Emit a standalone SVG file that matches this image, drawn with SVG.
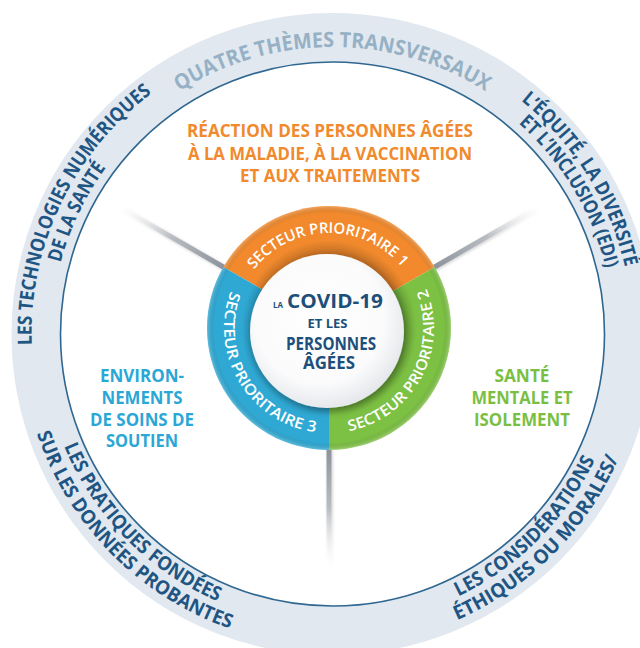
<svg xmlns="http://www.w3.org/2000/svg" xmlns:xlink="http://www.w3.org/1999/xlink" width="640" height="648" viewBox="0 0 640 648">
  <style>
    .theme { font-family: "Open Sans", "Liberation Sans", sans-serif; font-weight: 700; font-size: 19.5px; fill: #1f5583; }
    .title { font-family: "Open Sans", "Liberation Sans", sans-serif; font-weight: 700; font-size: 21px; fill: #96b1c5; }
    .sector { font-family: "Open Sans", "Liberation Sans", sans-serif; font-weight: 600; font-size: 15px; fill: #ffffff; }
    .area { font-family: "Open Sans", "Liberation Sans", sans-serif; font-weight: 700; font-size: 17px; text-anchor: middle; }
    .orange { fill: #f08a2c; }
    .blue { fill: #2aa7d6; }
    .green { fill: #7abf43; }
    .core { font-family: "Open Sans", "Liberation Sans", sans-serif; font-weight: 700; fill: #1d4f7b; }
  </style>
  <defs>
    <!-- text baselines on the outer band, centre (332.5,334) -->
    <path id="p-title" d="M49.86,284.16 A287,287 0 0 1 615.14,284.16"/>
    <path id="p-tech1" d="M84.44,504.49 A301,301 0 0 1 308.88,33.93"/>
    <path id="p-tech2" d="M100.92,493.16 A281,281 0 0 1 310.45,53.87"/>
    <path id="p-edi1" d="M322.03,34.18 A300,300 0 0 1 597.39,474.84"/>
    <path id="p-edi2" d="M327.60,53.04 A281,281 0 0 1 578.27,470.23"/>
    <path id="p-prat1" d="M51.81,257.21 A291,291 0 0 0 406.34,615.48"/>
    <path id="p-prat2" d="M31.56,251.67 A312,312 0 0 0 411.67,635.79"/>
    <path id="p-eth1" d="M257.18,615.09 A291,291 0 0 0 613.59,258.68"/>
    <path id="p-eth2" d="M251.75,635.37 A312,312 0 0 0 633.87,253.25"/>
    <!-- text baselines on the sector ring, centre (329,328) -->
    <path id="p-s1" d="M235.17,313.14 A95,95 0 0 1 422.25,309.87"/>
    <path id="p-s2" d="M295.68,427.57 A105,105 0 0 0 394.36,245.83"/>
    <path id="p-s3" d="M260.11,248.76 A105,105 0 0 0 366.63,426.03"/>

    <radialGradient id="discFill" cx="0.45" cy="0.42" r="0.6">
      <stop offset="0" stop-color="#ffffff"/>
      <stop offset="0.7" stop-color="#fbfbfc"/>
      <stop offset="1" stop-color="#e3e6ea"/>
    </radialGradient>
    <radialGradient id="ringShade" cx="329" cy="328" r="122" gradientUnits="userSpaceOnUse">
      <stop offset="0.62" stop-color="#000" stop-opacity="0.18"/>
      <stop offset="0.72" stop-color="#000" stop-opacity="0"/>
      <stop offset="0.94" stop-color="#000" stop-opacity="0"/>
      <stop offset="1" stop-color="#fff" stop-opacity="0.25"/>
    </radialGradient>
    <linearGradient id="lineUL" gradientUnits="userSpaceOnUse" x1="223.35" y1="267" x2="119.42" y2="207">
      <stop offset="0" stop-color="#8e939b"/>
      <stop offset="0.5" stop-color="#b9bdc3"/>
      <stop offset="1" stop-color="#ffffff" stop-opacity="0"/>
    </linearGradient>
    <linearGradient id="lineUR" gradientUnits="userSpaceOnUse" x1="434.65" y1="267" x2="538.58" y2="207">
      <stop offset="0" stop-color="#8e939b"/>
      <stop offset="0.5" stop-color="#b9bdc3"/>
      <stop offset="1" stop-color="#ffffff" stop-opacity="0"/>
    </linearGradient>
    <linearGradient id="lineB" gradientUnits="userSpaceOnUse" x1="329" y1="450" x2="329" y2="566">
      <stop offset="0" stop-color="#8e939b"/>
      <stop offset="0.5" stop-color="#b9bdc3"/>
      <stop offset="1" stop-color="#ffffff" stop-opacity="0"/>
    </linearGradient>
    <filter id="soft" x="-30%" y="-30%" width="160%" height="160%">
      <feDropShadow dx="2" dy="3" stdDeviation="4" flood-color="#000" flood-opacity="0.35"/>
    </filter>
    <filter id="lineShadow" x="-50%" y="-50%" width="200%" height="200%">
      <feDropShadow dx="1" dy="1" stdDeviation="1.5" flood-color="#000" flood-opacity="0.2"/>
    </filter>
  </defs>

  <rect width="640" height="648" fill="#ffffff"/>

  <!-- outer band of cross-cutting themes -->
  <g id="themes-band">
    <circle cx="332.5" cy="334" r="296.5" fill="none" stroke="#e1e8ef" stroke-width="49"/>
    <circle cx="332.5" cy="334" r="272" fill="none" stroke="#2f6791" stroke-width="1.6"/>
  </g>

  <g id="title">
    <text class="title" text-anchor="middle" textLength="323" lengthAdjust="spacingAndGlyphs"><textPath href="#p-title" xlink:href="#p-title" startOffset="50%">QUATRE THÈMES TRANSVERSAUX</textPath></text>
  </g>

  <g id="theme-tech">
    <text class="theme" text-anchor="middle" textLength="290" lengthAdjust="spacingAndGlyphs"><textPath href="#p-tech1" xlink:href="#p-tech1" startOffset="50%">LES TECHNOLOGIES NUMÉRIQUES</textPath></text>
    <text class="theme" text-anchor="middle" textLength="106" lengthAdjust="spacingAndGlyphs"><textPath href="#p-tech2" xlink:href="#p-tech2" startOffset="50%">DE LA SANTÉ</textPath></text>
  </g>

  <g id="theme-edi">
    <text class="theme" text-anchor="middle" textLength="200" lengthAdjust="spacingAndGlyphs"><textPath href="#p-edi1" xlink:href="#p-edi1" startOffset="50%">L’ÉQUITÉ, LA DIVERSITÉ</textPath></text>
    <text class="theme" text-anchor="middle" textLength="172" lengthAdjust="spacingAndGlyphs"><textPath href="#p-edi2" xlink:href="#p-edi2" startOffset="50%">ET L’INCLUSION (EDI)</textPath></text>
  </g>

  <g id="theme-pratiques">
    <text class="theme" text-anchor="middle" textLength="224" lengthAdjust="spacingAndGlyphs"><textPath href="#p-prat1" xlink:href="#p-prat1" startOffset="50%">LES PRATIQUES FONDÉES</textPath></text>
    <text class="theme" text-anchor="middle" textLength="284" lengthAdjust="spacingAndGlyphs"><textPath href="#p-prat2" xlink:href="#p-prat2" startOffset="50%">SUR LES DONNÉES PROBANTES</textPath></text>
  </g>

  <g id="theme-ethique">
    <text class="theme" text-anchor="middle" textLength="197" lengthAdjust="spacingAndGlyphs"><textPath href="#p-eth1" xlink:href="#p-eth1" startOffset="50%">LES CONSIDÉRATIONS</textPath></text>
    <text class="theme" text-anchor="middle" textLength="234" lengthAdjust="spacingAndGlyphs"><textPath href="#p-eth2" xlink:href="#p-eth2" startOffset="50%">ÉTHIQUES OU MORALES/</textPath></text>
  </g>

  <!-- radial dividers between the three priority areas -->
  <g id="connectors" filter="url(#lineShadow)" stroke-linecap="round">
    <line x1="223.35" y1="267" x2="119.42" y2="207" stroke="url(#lineUL)" stroke-width="5"/>
    <line x1="434.65" y1="267" x2="538.58" y2="207" stroke="url(#lineUR)" stroke-width="5"/>
    <line x1="329" y1="450" x2="329" y2="566" stroke="url(#lineB)" stroke-width="5"/>
  </g>

  <!-- priority area labels -->
  <g id="area-1">
    <text class="area orange" x="330" y="137" textLength="286" lengthAdjust="spacingAndGlyphs">RÉACTION DES PERSONNES ÂGÉES</text>
    <text class="area orange" x="330" y="159.5" textLength="284" lengthAdjust="spacingAndGlyphs">À LA MALADIE, À LA VACCINATION</text>
    <text class="area orange" x="330" y="182" textLength="180" lengthAdjust="spacingAndGlyphs">ET AUX TRAITEMENTS</text>
  </g>
  <g id="area-3">
    <text class="area blue" x="142" y="382" textLength="84" lengthAdjust="spacingAndGlyphs">ENVIRON-</text>
    <text class="area blue" x="142" y="404" textLength="81" lengthAdjust="spacingAndGlyphs">NEMENTS</text>
    <text class="area blue" x="142" y="426" textLength="104" lengthAdjust="spacingAndGlyphs">DE SOINS DE</text>
    <text class="area blue" x="142" y="447" textLength="72" lengthAdjust="spacingAndGlyphs">SOUTIEN</text>
  </g>
  <g id="area-2">
    <text class="area green" x="522" y="382" textLength="55" lengthAdjust="spacingAndGlyphs">SANTÉ</text>
    <text class="area green" x="522" y="404" textLength="101" lengthAdjust="spacingAndGlyphs">MENTALE ET</text>
    <text class="area green" x="522" y="426" textLength="96" lengthAdjust="spacingAndGlyphs">ISOLEMENT</text>
  </g>

  <!-- sector ring -->
  <g id="sector-1">
    <path d="M329,328 L223.35,267 A122,122 0 0 1 434.65,267 Z" fill="#f28a2d"/>
  </g>
  <g id="sector-2">
    <path d="M329,328 L434.65,267 A122,122 0 0 1 329,450 Z" fill="#7cc143"/>
  </g>
  <g id="sector-3">
    <path d="M329,328 L329,450 A122,122 0 0 1 223.35,267 Z" fill="#2fa9d4"/>
  </g>
  <circle cx="329" cy="328" r="122" fill="url(#ringShade)"/>
  <g id="sector-labels">
    <text class="sector" text-anchor="middle" textLength="169" lengthAdjust="spacingAndGlyphs"><textPath href="#p-s1" xlink:href="#p-s1" startOffset="50%">SECTEUR PRIORITAIRE 1</textPath></text>
    <text class="sector" text-anchor="middle" textLength="185" lengthAdjust="spacingAndGlyphs"><textPath href="#p-s2" xlink:href="#p-s2" startOffset="50%">SECTEUR PRIORITAIRE 2</textPath></text>
    <text class="sector" text-anchor="middle" textLength="189" lengthAdjust="spacingAndGlyphs"><textPath href="#p-s3" xlink:href="#p-s3" startOffset="50%">SECTEUR PRIORITAIRE 3</textPath></text>
  </g>

  <!-- central disc -->
  <g id="center">
    <circle cx="327" cy="331" r="77" fill="url(#discFill)" filter="url(#soft)"/>
    <text class="core" x="273" y="308" font-size="9" textLength="10" lengthAdjust="spacingAndGlyphs">LA</text>
    <text class="core" x="287" y="308" font-size="19" textLength="96" lengthAdjust="spacingAndGlyphs">COVID-19</text>
    <text class="core" x="327.5" y="328" font-size="12.5" text-anchor="middle" textLength="40" lengthAdjust="spacingAndGlyphs">ET LES</text>
    <text class="core" x="331" y="350" font-size="18" text-anchor="middle" textLength="90" lengthAdjust="spacingAndGlyphs">PERSONNES</text>
    <text class="core" x="329" y="369" font-size="18" text-anchor="middle" textLength="52" lengthAdjust="spacingAndGlyphs">ÂGÉES</text>
  </g>
</svg>
